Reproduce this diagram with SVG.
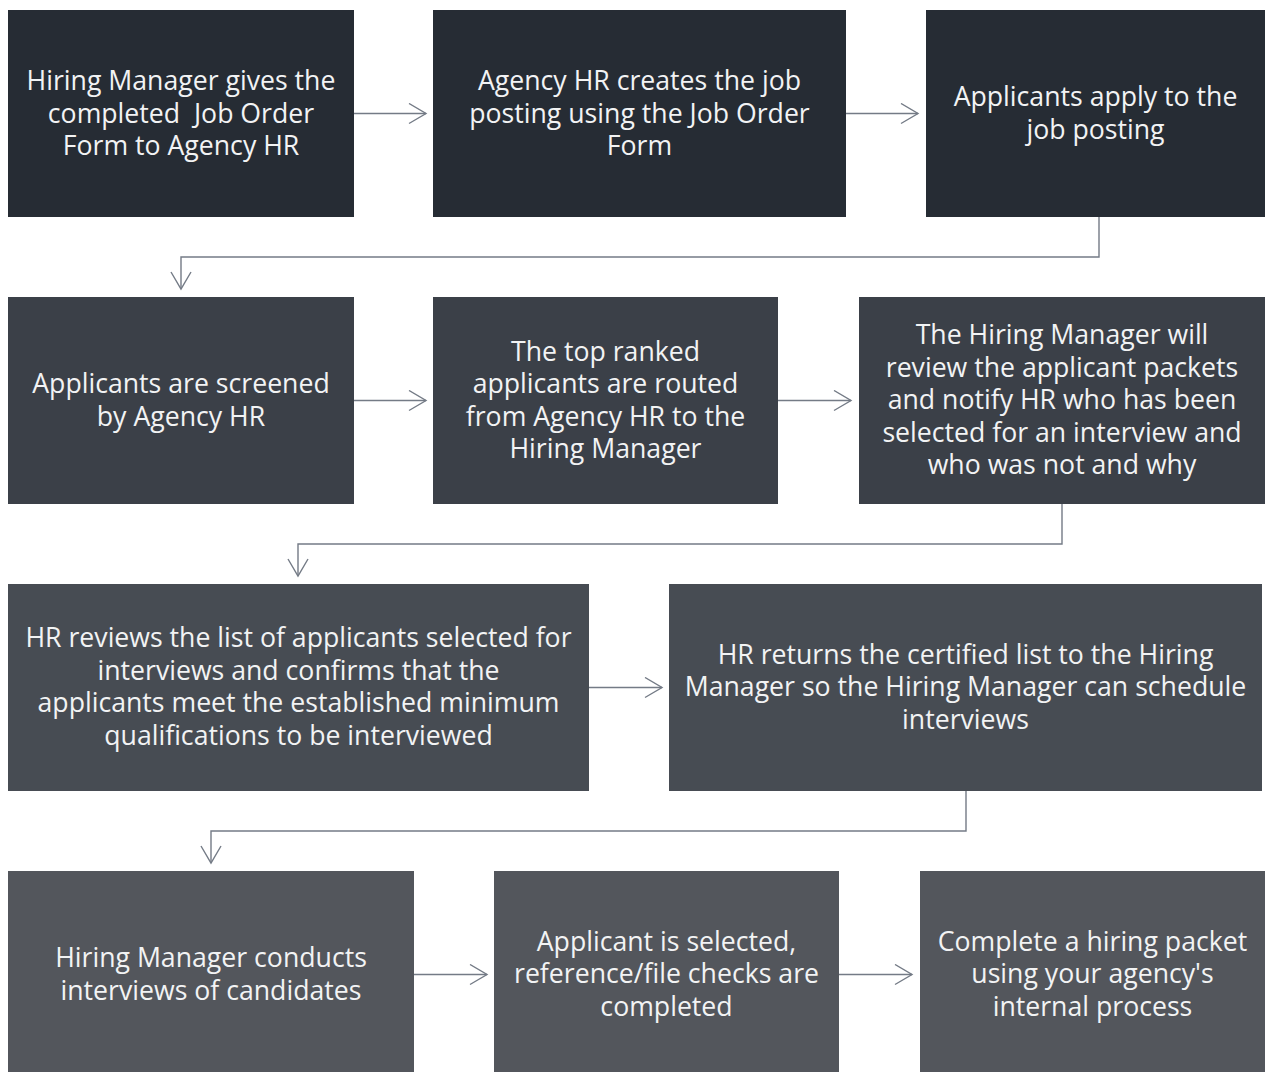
<svg xmlns="http://www.w3.org/2000/svg" width="1272" height="1072" viewBox="0 0 1272 1072">
  <style>
    .box text { font-family: "Open Sans", "Liberation Sans", sans-serif; font-size: 26.67px; fill: #f2f3f4; text-anchor: middle; }
    .r1 { fill: #262c34; }
    .r2 { fill: #3b4048; }
    .r3 { fill: #474c53; }
    .r4 { fill: #53565c; }
    .conn { fill: none; stroke: #747b86; stroke-width: 1.4; marker-end: url(#chev); }
  </style>
  <defs>
    <marker id="chev" markerUnits="userSpaceOnUse" markerWidth="22" markerHeight="24" refX="18" refY="11" orient="auto">
      <path d="M1,1 L18,11 L1,21" fill="none" stroke="#747b86" stroke-width="1.4"/>
    </marker>
  </defs>
  <rect width="1272" height="1072" fill="#ffffff"/>

  <!-- Row 1 -->
  <g id="n1" class="box">
    <rect class="r1" x="8" y="10" width="346" height="207"/>
    <text x="181" y="90">Hiring Manager gives the</text>
    <text x="181" y="122.5" xml:space="preserve">completed  Job Order</text>
    <text x="181" y="155">Form to Agency HR</text>
  </g>
  <g id="n2" class="box">
    <rect class="r1" x="433" y="10" width="413" height="207"/>
    <text x="639.5" y="90">Agency HR creates the job</text>
    <text x="639.5" y="122.5">posting using the Job Order</text>
    <text x="639.5" y="155">Form</text>
  </g>
  <g id="n3" class="box">
    <rect class="r1" x="926" y="10" width="339" height="207"/>
    <text x="1095.5" y="106">Applicants apply to the</text>
    <text x="1095.5" y="138.5">job posting</text>
  </g>

  <!-- Row 2 -->
  <g id="n4" class="box">
    <rect class="r2" x="8" y="297" width="346" height="207"/>
    <text x="181" y="393">Applicants are screened</text>
    <text x="181" y="425.5">by Agency HR</text>
  </g>
  <g id="n5" class="box">
    <rect class="r2" x="433" y="297" width="345" height="207"/>
    <text x="605.5" y="360.5">The top ranked</text>
    <text x="605.5" y="393">applicants are routed</text>
    <text x="605.5" y="425.5">from Agency HR to the</text>
    <text x="605.5" y="458">Hiring Manager</text>
  </g>
  <g id="n6" class="box">
    <rect class="r2" x="859" y="297" width="406" height="207"/>
    <text x="1062" y="344">The Hiring Manager will</text>
    <text x="1062" y="376.5">review the applicant packets</text>
    <text x="1062" y="409">and notify HR who has been</text>
    <text x="1062" y="441.5">selected for an interview and</text>
    <text x="1062" y="474">who was not and why</text>
  </g>

  <!-- Row 3 -->
  <g id="n7" class="box">
    <rect class="r3" x="8" y="584" width="581" height="207"/>
    <text x="298.5" y="647">HR reviews the list of applicants selected for</text>
    <text x="298.5" y="679.5">interviews and confirms that the</text>
    <text x="298.5" y="712">applicants meet the established minimum</text>
    <text x="298.5" y="744.5">qualifications to be interviewed</text>
  </g>
  <g id="n8" class="box">
    <rect class="r3" x="669" y="584" width="593" height="207"/>
    <text x="965.5" y="663.5">HR returns the certified list to the Hiring</text>
    <text x="965.5" y="696">Manager so the Hiring Manager can schedule</text>
    <text x="965.5" y="728.5">interviews</text>
  </g>

  <!-- Row 4 -->
  <g id="n9" class="box">
    <rect class="r4" x="8" y="871" width="406" height="207"/>
    <text x="211" y="967">Hiring Manager conducts</text>
    <text x="211" y="999.5">interviews of candidates</text>
  </g>
  <g id="n10" class="box">
    <rect class="r4" x="494" y="871" width="345" height="207"/>
    <text x="666.5" y="950.5">Applicant is selected,</text>
    <text x="666.5" y="983">reference/file checks are</text>
    <text x="666.5" y="1015.5">completed</text>
  </g>
  <g id="n11" class="box">
    <rect class="r4" x="920" y="871" width="345" height="207"/>
    <text x="1092.5" y="950.5">Complete a hiring packet</text>
    <text x="1092.5" y="983">using your agency's</text>
    <text x="1092.5" y="1015.5">internal process</text>
  </g>

  <!-- Connectors -->
  <g id="connectors">
    <path class="conn" d="M354,113.5 H426"/>
    <path class="conn" d="M846,113.5 H918"/>
    <path class="conn" d="M1099,217 V257 H181 V289"/>
    <path class="conn" d="M354,400.5 H426"/>
    <path class="conn" d="M778,400.5 H851"/>
    <path class="conn" d="M1062,504 V544 H298 V576"/>
    <path class="conn" d="M589,687.5 H662"/>
    <path class="conn" d="M966,791 V831 H211 V863"/>
    <path class="conn" d="M414,974.5 H487"/>
    <path class="conn" d="M839,974.5 H912"/>
  </g>
</svg>
